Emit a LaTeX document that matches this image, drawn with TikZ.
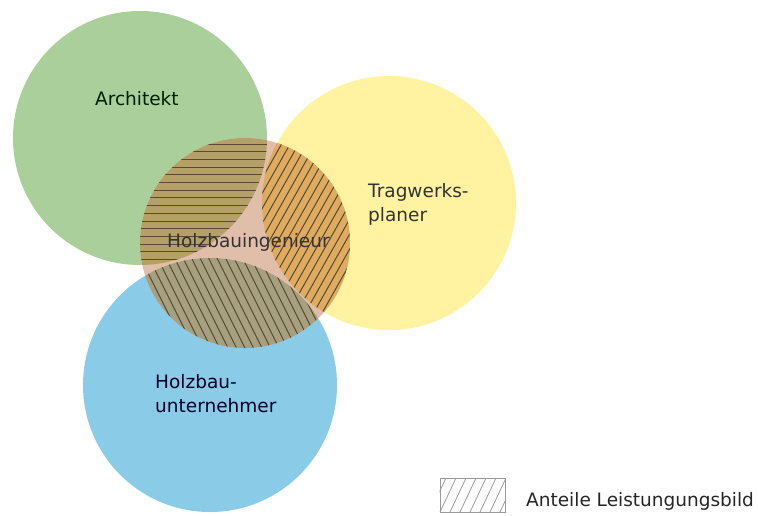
\documentclass[tikz,border=0pt]{standalone}
\usepackage{fontspec}
\setmainfont{DejaVu Sans}
\usetikzlibrary{positioning}
\definecolor{archgreen}{HTML}{AACF9B}
\definecolor{tragyellow}{HTML}{FFF3A2}
\definecolor{hbublue}{HTML}{8ACBE7}
\definecolor{hbipink}{HTML}{E0BEAA}
\definecolor{mixolive}{HTML}{B5A06A}
\definecolor{mixorange}{HTML}{DEAB60}
\definecolor{mixgrey}{HTML}{A6A081}
\definecolor{hatchbrown}{HTML}{5A4A2E}
\tikzset{lbl/.style={inner sep=0pt,anchor=base west,align=left,font=\fontsize{18.5}{24}\selectfont}}
\tikzset{hatch/.style={draw=hatchbrown,line width=1pt}}
\tikzset{thinhatch/.style={draw=gray!80,line width=0.8pt}}
\newcommand{\hbiclip}{
    \clip (245,243) circle[radius=105pt];
}

\begin{document}
\begin{tikzpicture}[x=1pt,y=-1pt]
        \useasboundingbox (0,0) rectangle (758,515);

        \fill[archgreen] (140,138) circle[radius=127pt];
        \fill[tragyellow] (389,203) circle[radius=127pt];
        \fill[hbublue] (210,385) circle[radius=127pt];
        \fill[hbipink] (245,243) circle[radius=105pt];

        \begin{scope}
            \hbiclip
            \clip (140,138) circle[radius=127pt];
            \fill[mixolive] (130,130) rectangle (360,360);
            \foreach \y in {144,151.7,...,357}
                \draw[hatch] (130,\y) -- (360,\y);
        \end{scope}
        \begin{scope}
            \hbiclip
            \clip (389,203) circle[radius=127pt];
            \fill[mixorange] (130,130) rectangle (360,360);
            \foreach \x in {100,108.5,...,370}
                \draw[hatch] (\x,360) -- ++(130,-230);
        \end{scope}
        \begin{scope}
            \hbiclip
            \clip (210,385) circle[radius=127pt];
            \fill[mixgrey] (130,130) rectangle (360,360);
            \foreach \x in {60,68.5,...,360}
                \draw[hatch] (\x,250) -- ++(55,110);
        \end{scope}

        \node[lbl,text=black!80!green!60!black] (arc) at (95,105) {Architekt};
        \node[lbl,text=black!80] (trw) at (368,221) {Tragwerks-\\planer};
        \node[lbl,text=black!80] (hbi) at (167,247) {Holzbauingenieur};
        \node[lbl,text=black!75!blue!60!black] (hbu) at (155,412) {Holzbau-\\unternehmer};

        \node[draw=gray!80,line width=0.8pt,minimum width=65pt,minimum height=34pt,inner sep=0pt] (box) at (472.5,495) {};
        \begin{scope}
            \clip (box.south west) rectangle (box.north east);
            \foreach \x in {420,430,...,510}
                \draw[thinhatch] (\x,512) -- ++(16,-34);
        \end{scope}
        \node[lbl,text=black!85] (leg) at (526,506) {Anteile Leistungungsbild};
    \end{tikzpicture}
\end{document}
